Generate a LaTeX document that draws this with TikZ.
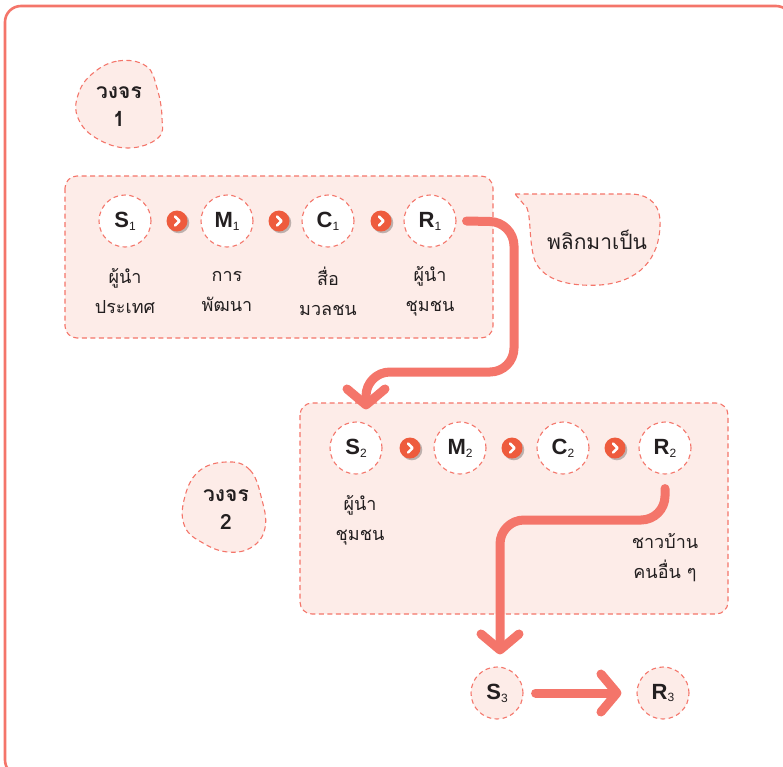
\documentclass[tikz,border=0pt]{standalone}
\usepackage{fontspec}
\setmainfont{Liberation Sans}
\newfontfamily\thai[Script=Thai]{Loma}
\usetikzlibrary{arrows.meta,shadows}
\definecolor{salmon}{HTML}{F4756A}
\definecolor{pinkfill}{HTML}{FDECE8}
\definecolor{chev}{HTML}{EE5B3D}
\definecolor{ink}{HTML}{231F20}
\tikzset{
 frame/.style={draw=salmon, line width=2.6pt, rounded corners=16pt},
 dbox/.style={draw=salmon, dash pattern=on 5pt off 3.5pt, line width=1.1pt, fill=pinkfill, rounded corners=12pt},
 blob/.style={draw=salmon, dash pattern=on 5pt off 3.5pt, line width=1.1pt, fill=pinkfill},
 stage/.style={circle, draw=salmon, dash pattern=on 4.5pt off 3.5pt, line width=1.1pt, fill=white, minimum size=52pt, inner sep=0pt, text=ink},
 stagep/.style={stage, fill=pinkfill},
 captext/.style={align=center, text=ink, font=\thai\fontsize{18}{30}\selectfont},
 blobtext/.style={align=center, text=ink, font=\thai\bfseries\fontsize{21}{28}\selectfont},
 flow/.style={draw=salmon, line width=9pt, line cap=round, rounded corners=24pt, -{Straight Barb[length=16pt,width=38pt,round]}},
 chevnode/.style={circle, fill=chev, minimum size=21pt, inner sep=0pt,
   drop shadow={shadow xshift=1.8pt, shadow yshift=-1.8pt, fill=black, opacity=0.25},
   path picture={\draw[white, line width=2.5pt, line cap=round, line join=round]
     ([xshift=-2pt,yshift=4.5pt]path picture bounding box.center) -- ++(4.5pt,-4.5pt) -- ++(-4.5pt,-4.5pt);}},
}
\newcommand{\stg}[2]{{\fontsize{22}{22}\selectfont\bfseries #1}\raisebox{-0.55ex}{\fontsize{12}{12}\selectfont #2}}
\begin{document}
\begin{tikzpicture}[x=1pt,y=-1pt]
\useasboundingbox (0,0) rectangle (783,766);
\clip (0,0) rectangle (783,766);
\draw[frame] (5,6) rectangle (792,776);

% cycle 1 label blob
\draw[blob] plot[smooth cycle, tension=0.7] coordinates {(92,74) (118,61) (146,66) (157,88) (162,118) (158,138) (128,148) (96,138) (78,118) (78,95)};
\node[blobtext] (lab1) at (119,107) {วงจร\\1};

% box 1
\draw[dbox] (65,176) rectangle (493,338);
\node[stage] (s1) at (125,221) {\stg{S}{1}};
\node[stage] (m1) at (227,221) {\stg{M}{1}};
\node[stage] (c1) at (328,221) {\stg{C}{1}};
\node[stage] (r1) at (430,221) {\stg{R}{1}};
\node[chevnode] (k1) at (177,221) {};
\node[chevnode] (k2) at (279,221) {};
\node[chevnode] (k3) at (381,221) {};
\node[captext] (t1) at (125,291) {ผู้นำ\\ประเทศ};
\node[captext] (t2) at (227,291) {การ\\พัฒนา};
\node[captext] (t3) at (328,291) {สื่อ\\มวลชน};
\node[captext] (t4) at (430,291) {ผู้นำ\\ชุมชน};

% flip bubble
\draw[blob] (515,194) -- (632,194) .. controls (652,195) and (661,207) .. (660,226)
  .. controls (659,258) and (640,282) .. (600,285)
  .. controls (565,287) and (540,278) .. (534,258)
  .. controls (529,240) and (531,218) .. (527,208) -- cycle;
\node[text=ink, font=\thai\fontsize{21}{21}\selectfont] (flip) at (597,240) {พลิกมาเป็น};

% box 2
\draw[dbox] (300,403) rectangle (728,614);
\draw[blob] plot[smooth cycle, tension=0.7] coordinates {(226,462) (250,470) (262,500) (265,528) (252,547) (228,552) (203,543) (185,527) (184,500) (198,472)};
\node[blobtext] (lab2) at (226,510) {วงจร\\2};
\node[stage] (s2) at (356,448) {\stg{S}{2}};
\node[stage] (m2) at (460,448) {\stg{M}{2}};
\node[stage] (c2) at (563,448) {\stg{C}{2}};
\node[stage] (r2) at (665,448) {\stg{R}{2}};
\node[chevnode] (k4) at (410,448) {};
\node[chevnode] (k5) at (512,448) {};
\node[chevnode] (k6) at (615,448) {};
\node[captext] (t5) at (360,520) {ผู้นำ\\ชุมชน};
\node[captext] (t6) at (665,558) {ชาวบ้าน\\คนอื่น ๆ};

% cycle 3
\node[stagep] (s3) at (497,693) {\stg{S}{3}};
\node[stagep] (r3) at (663,693) {\stg{R}{3}};

% flows
\draw[flow] ([xshift=10pt]r1.east) -- (514,222) -- (514,372) -- (366,372) -- ([xshift=10pt,yshift=12pt]s2.north);
\draw[flow] ([yshift=-14pt]r2.south) -- (665,520) -- (500,520) -- ([xshift=3pt,yshift=12pt]s3.north);
\draw[flow] ([xshift=12pt]s3.east) -- ([xshift=-15pt]r3.west);
\end{tikzpicture}
\end{document}
